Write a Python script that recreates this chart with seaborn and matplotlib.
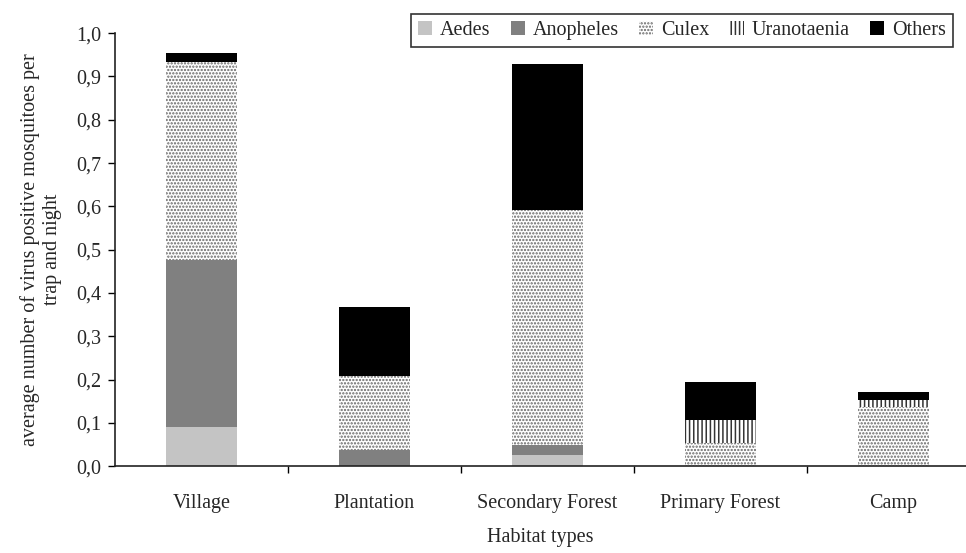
import seaborn as sns
import numpy as np
import matplotlib.pyplot as plt
from matplotlib.patches import Patch
from matplotlib import ticker

habitats = ["Village", "Plantation", "Secondary Forest", "Primary Forest", "Camp"]
aedes = [0.090, 0.0, 0.025, 0.0, 0.0]
anopheles = [0.386, 0.037, 0.023, 0.0, 0.0]
culex = [0.458, 0.171, 0.543, 0.053, 0.137]
uranotaenia = [0.0, 0.0, 0.0, 0.054, 0.016]
others = [0.020, 0.159, 0.337, 0.087, 0.018]

series = [
    ("Aedes", aedes),
    ("Anopheles", anopheles),
    ("Culex", culex),
    ("Uranotaenia", uranotaenia),
    ("Others", others),
]
# facecolor, hatch colour, hatch
styles = {
    "Aedes": ("#c4c4c4", "#c4c4c4", None),
    "Anopheles": ("#808080", "#808080", None),
    "Culex": ("white", "#666666", "....."),
    "Uranotaenia": ("white", "#333333", "||||"),
    "Others": ("black", "black", None),
}


def plot():
    sns.set_theme(style="ticks")
    plt.rcParams["font.family"] = ["Liberation Serif", "DejaVu Serif"]
    plt.rcParams["hatch.linewidth"] = 1.1

    fig = plt.figure(figsize=(9.66, 5.53), dpi=100)
    ax = fig.add_axes([0.119, 0.157, 0.881, 0.783])

    bottom = np.zeros(len(habitats))
    for name, vals in series:
        face, hcol, hatch = styles[name]
        n_before = len(ax.patches)
        sns.barplot(ax=ax, x=habitats, y=vals, bottom=bottom, width=0.41,
                    color=face, saturation=1, linewidth=0, edgecolor=hcol)
        for p in ax.patches[n_before:]:
            p.set_facecolor(face)
            p.set_edgecolor(hcol)
            p.set_linewidth(0)
            if hatch:
                p.set_hatch(hatch)
        bottom = bottom + np.array(vals)

    ax.set_xlim(-0.5, 4.42)
    ax.set_ylim(0, 1.0)
    ax.set_yticks(np.arange(0, 1.01, 0.1))
    ax.yaxis.set_major_formatter(ticker.FuncFormatter(lambda v, p: ("%.1f" % v).replace(".", ",")))
    ax.set_xticks(range(len(habitats)))
    ax.set_xticklabels(habitats)
    ax.tick_params(axis="x", length=0, labelsize=14.5, pad=20)
    ax.set_xticks([0.5, 1.5, 2.5, 3.5], minor=True)
    ax.tick_params(axis="x", which="minor", length=5, width=1, color="black", direction="out")
    ax.tick_params(axis="y", length=5, width=1, color="black", labelsize=14.5, direction="out", pad=5)
    for s in ["top", "right"]:
        ax.spines[s].set_visible(False)
    for s in ["left", "bottom"]:
        ax.spines[s].set_color("#222222")
        ax.spines[s].set_linewidth(1.2)

    ax.set_xlabel("Habitat types", fontsize=14.5, labelpad=11)
    ax.set_ylabel("average number of virus positive mosquitoes per\ntrap and night", fontsize=14.5, labelpad=10)

    handles = []
    for name, _ in series:
        face, hcol, hatch = styles[name]
        handles.append(Patch(facecolor=face, edgecolor=hcol, linewidth=0, hatch=hatch, label=name))
    leg = fig.legend(handles=handles, loc="upper right", bbox_to_anchor=(0.997, 0.993), ncol=5,
                     fontsize=14.5, frameon=True, fancybox=False, handlelength=0.7, handleheight=0.7,
                     handletextpad=0.4, columnspacing=1.0, borderpad=0.35)
    leg.get_frame().set_edgecolor("black")
    leg.get_frame().set_linewidth(1.2)

    plt.savefig("out.png", dpi=100)


if __name__ == '__main__':
    plot()
